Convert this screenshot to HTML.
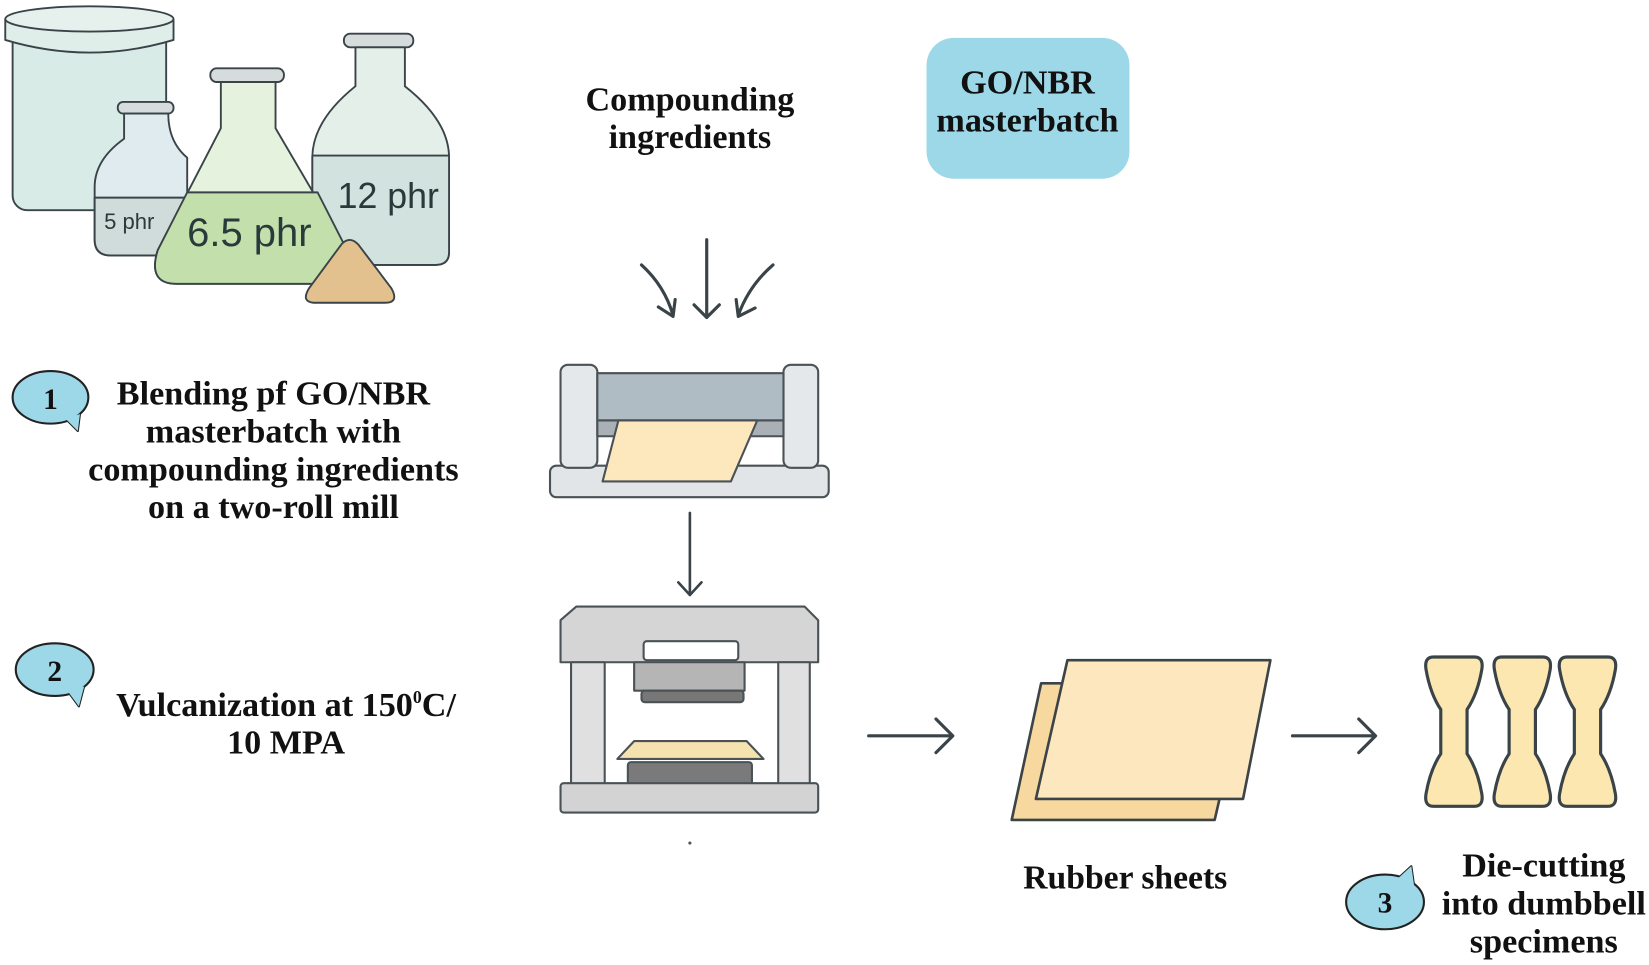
<!DOCTYPE html>
<html><head><meta charset="utf-8"><style>
html,body{margin:0;padding:0;background:#fff;}
svg{display:block}
text{font-family:"Liberation Serif",serif;font-weight:bold;fill:#111;}
.s{font-family:"Liberation Sans",sans-serif;font-weight:normal;fill:#2a3a3a;}
</style></head><body>
<svg width="1649" height="965" viewBox="0 0 1568 918" preserveAspectRatio="none" xmlns="http://www.w3.org/2000/svg">
<g stroke="#3a4448" stroke-width="1.8" stroke-linejoin="round">
<rect x="12" y="24" width="146" height="176" rx="14" fill="#d9ebe6"/>
<path d="M5 18 V38 Q85 62 165 38 V18" fill="#e0eeea"/>
<ellipse cx="85" cy="18" rx="80" ry="12" fill="#e6f1ee"/>
<rect x="112" y="97" width="53" height="11" rx="5" fill="#d6dcdc"/>
<path d="M118 108 V132 Q90 152 90 178 V228 Q90 243 105 243 H178 V150 Q160 135 160 108 Z" fill="#e0ebf0"/>
<path d="M90 188 H178 V243 H105 Q90 243 90 228 Z" fill="#cfdcd9"/>
<rect x="327" y="32" width="66" height="13" rx="6" fill="#d6dcdc"/>
<path d="M338 45 V82 Q297 115 297 150 V240 Q297 252 310 252 H414 Q427 252 427 240 V150 Q427 115 385 82 V45 Z" fill="#e4efea"/>
<path d="M297 148 H427 V240 Q427 252 414 252 H310 Q297 252 297 240 Z" fill="#d2e2df"/>
<rect x="200" y="65" width="70" height="13" rx="6" fill="#d6dcdc"/>
<path d="M210 78 V122 L150 238 Q140 270 168 270 H312 Q340 270 330 238 L262 122 V78 Z" fill="#e4f2de"/>
<path d="M178 183 H302 L330 238 Q340 270 312 270 H168 Q140 270 150 238 Z" fill="#c3dfac"/>
<path d="M298 288 Q286 287 294 274 L325 232 Q333 224 341 233 L372 274 Q380 288 366 288 Z" fill="#e2c18e"/>
</g>
<text class="s" x="99" y="218" font-size="21">5 phr</text>
<text class="s" x="178" y="234" font-size="38">6.5 phr</text>
<text class="s" x="321" y="198" font-size="34">12 phr</text>

<text x="656" y="105" font-size="32.5" text-anchor="middle">Compounding</text>
<text x="656" y="141" font-size="32.5" text-anchor="middle">ingredients</text>
<rect x="881" y="36" width="193" height="134" rx="26" fill="#9dd8e8"/>
<text x="977" y="89" font-size="32.5" text-anchor="middle">GO/NBR</text>
<text x="977" y="125" font-size="32.5" text-anchor="middle">masterbatch</text>

<g stroke="#3a4448" stroke-width="3" fill="none" stroke-linecap="round" stroke-linejoin="round">
<path d="M672 228 V302 M660 290 L672 302 L684 290"/>
<path d="M610 252 Q632 272 640 300 M626 292 L640 301 L642 285"/>
<path d="M735 252 Q712 272 702 300 M718 293 L702 301 L700 285"/>
<path d="M656 488 V566 M645 554 L656 566 L667 554" stroke-width="2.5"/>
<path d="M826 700 H905 M890 684 L906 700 L890 716"/>
<path d="M1229 700 H1307 M1292 684 L1308 700 L1292 716"/>
</g>

<g stroke="#4a5256" stroke-width="2" stroke-linejoin="round">
<rect x="523" y="443" width="265" height="30" rx="6" fill="#e1e5e8"/>
<rect x="533" y="347" width="35" height="98" rx="7" fill="#e4e8ea"/>
<rect x="745" y="347" width="33" height="98" rx="7" fill="#e4e8ea"/>
<rect x="568" y="355" width="177" height="45" fill="#b0bcc4"/>
<rect x="568" y="400" width="177" height="15" fill="#aab1b6"/>
<path d="M588 400 H720 L695 458 H573 Z" fill="#fde7bd"/>
<path d="M533 590 L548 577 H765 L778 590 V630 H533 Z" fill="#d5d5d5"/>
<rect x="543" y="630" width="32" height="117" fill="#e0e0e0"/>
<rect x="740" y="630" width="30" height="117" fill="#e0e0e0"/>
<rect x="612" y="610" width="90" height="18" rx="3" fill="#fff"/>
<rect x="603" y="630" width="105" height="27" fill="#b5b5b5"/>
<rect x="610" y="657" width="97" height="11" rx="3" fill="#777"/>
<rect x="597" y="725" width="118" height="22" rx="3" fill="#7a7a7a"/>
<path d="M603 705 H710 L726 722 H587 Z" fill="#f6e2ae"/>
<rect x="533" y="745" width="245" height="28" rx="3" fill="#d3d3d3"/>
</g>
<circle cx="656" cy="802" r="1.5" fill="#555"/>

<g stroke="#3d4448" stroke-width="2.5" stroke-linejoin="round">
<path d="M990 650 H1185 L1155 780 H962 Z" fill="#f7d9a0"/>
<path d="M1015 628 H1208 L1182 760 H985 Z" fill="#fde7bf"/>
</g>
<text x="1070" y="845" font-size="32" text-anchor="middle">Rubber sheets</text>

<g stroke="#3a4448" stroke-width="3" fill="#fde7b0">
<path id="db" d="M1363 625 H1402 Q1411 625 1409 637 Q1405 660 1395 675 V717 Q1405 732 1409 755 Q1411 767 1402 767 H1363 Q1354 767 1356 755 Q1360 732 1370 717 V675 Q1360 660 1356 637 Q1354 625 1363 625 Z"/>
<use href="#db" x="65"/>
<use href="#db" x="127"/>
</g>

<g stroke="#222" stroke-width="2" fill="#9dd8e8" stroke-linejoin="round">
<path d="M62 398 L74 410 L76 394"/>
<ellipse cx="48" cy="378" rx="36" ry="25"/>
<path d="M62 398 L74 410 L76 394" stroke="none"/>
<path d="M64 657 L75 672 L80 653"/>
<ellipse cx="52" cy="637" rx="37" ry="25"/>
<path d="M64 657 L75 672 L80 653" stroke="none"/>
<path d="M1330 835 L1342 824 L1345 845"/>
<ellipse cx="1317" cy="858" rx="37" ry="26"/>
<path d="M1330 835 L1342 824 L1345 845" stroke="none"/>
</g>
<text x="48" y="389" font-size="28" text-anchor="middle">1</text>
<text x="52" y="648" font-size="28" text-anchor="middle">2</text>
<text x="1317" y="868" font-size="28" text-anchor="middle">3</text>

<g font-size="32.5" text-anchor="middle">
<text x="260" y="385">Blending pf GO/NBR</text>
<text x="260" y="421">masterbatch with</text>
<text x="260" y="457">compounding ingredients</text>
<text x="260" y="493">on a two-roll mill</text>
<text x="272" y="681">Vulcanization at 150<tspan font-size="17" dy="-12">0</tspan><tspan dy="12">C/</tspan></text>
<text x="272" y="717">10 MPA</text>
<text x="1468" y="834">Die-cutting</text>
<text x="1468" y="870">into dumbbell</text>
<text x="1468" y="906">specimens</text>
</g>
</svg>
</body></html>
